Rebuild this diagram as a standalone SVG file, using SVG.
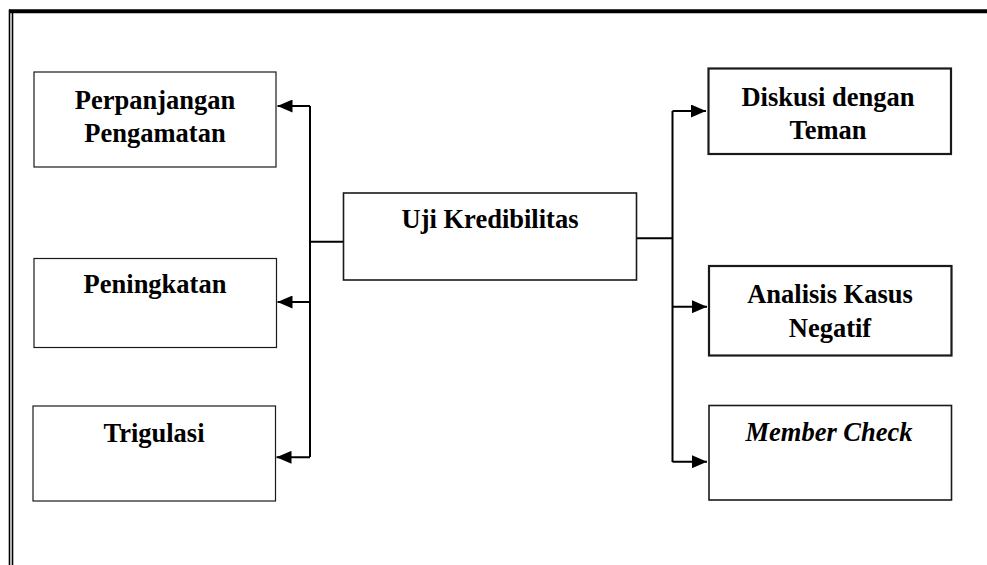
<svg xmlns="http://www.w3.org/2000/svg" width="987" height="565" viewBox="0 0 987 565">
<style>
.box{fill:#fff;stroke:#1a1a1a}
.thin{stroke-width:1.2}
.mid{stroke-width:1.6}
.thick{stroke-width:2.2}
.t{font-family:"Liberation Serif","Times New Roman",serif;font-weight:bold;font-size:26.5px;fill:#000;text-anchor:middle}
.it{font-style:italic}
.line{fill:none;stroke:#000;stroke-width:2}
</style>
<defs>
<marker id="ah" viewBox="0 0 15 13" refX="15" refY="6.5" markerWidth="15" markerHeight="13" markerUnits="userSpaceOnUse" orient="auto">
<path d="M0,0 L15,6.5 L0,13 Z" fill="#000"/>
</marker>
</defs>
<rect width="987" height="565" fill="#fff"/>
<g id="frame">
<line x1="9" y1="11.3" x2="987" y2="11.3" stroke="#000" stroke-width="4"/>
<line x1="9.5" y1="9.5" x2="9.5" y2="565" stroke="#000" stroke-width="1.6"/>
<line x1="12.5" y1="13" x2="12.5" y2="565" stroke="#000" stroke-width="1.6"/>
</g>
<g id="connectors">
<path class="line" d="M310,106 V457"/>
<path class="line" d="M310,241.7 H343"/>
<path class="line" d="M310,106 H277.5" marker-end="url(#ah)"/>
<path class="line" d="M310,302 H277.5" marker-end="url(#ah)"/>
<path class="line" d="M310,457.3 H276.5" marker-end="url(#ah)"/>
<path class="line" d="M672.5,111 V462"/>
<path class="line" d="M637,238.3 H672.5"/>
<path class="line" d="M672.5,111 H706" marker-end="url(#ah)"/>
<path class="line" d="M672.5,306.7 H707" marker-end="url(#ah)"/>
<path class="line" d="M672.5,461.7 H707" marker-end="url(#ah)"/>
</g>
<g id="perpanjangan">
<rect class="box thin" x="34" y="72" width="242" height="95"/>
<text class="t" x="155" y="109">Perpanjangan</text>
<text class="t" x="155" y="141.5">Pengamatan</text>
</g>
<g id="peningkatan">
<rect class="box thin" x="34" y="258.5" width="242.5" height="89"/>
<text class="t" x="155" y="293.3">Peningkatan</text>
</g>
<g id="trigulasi">
<rect class="box thin" x="33" y="406" width="242.5" height="95"/>
<text class="t" x="154" y="441.7">Trigulasi</text>
</g>
<g id="uji">
<rect class="box mid" x="343.5" y="193" width="293" height="87"/>
<text class="t" x="490" y="227.7">Uji Kredibilitas</text>
</g>
<g id="diskusi">
<rect class="box thick" x="708.5" y="68.5" width="242.5" height="85.5"/>
<text class="t" x="828" y="106">Diskusi dengan</text>
<text class="t" x="828" y="138.5">Teman</text>
</g>
<g id="analisis">
<rect class="box thick" x="709" y="266" width="242.5" height="89.5"/>
<text class="t" x="830" y="302.5">Analisis Kasus</text>
<text class="t" x="830" y="336.5">Negatif</text>
</g>
<g id="member">
<rect class="box mid" x="709" y="405.5" width="242.5" height="94.5"/>
<text class="t it" x="829" y="441">Member Check</text>
</g>
</svg>
